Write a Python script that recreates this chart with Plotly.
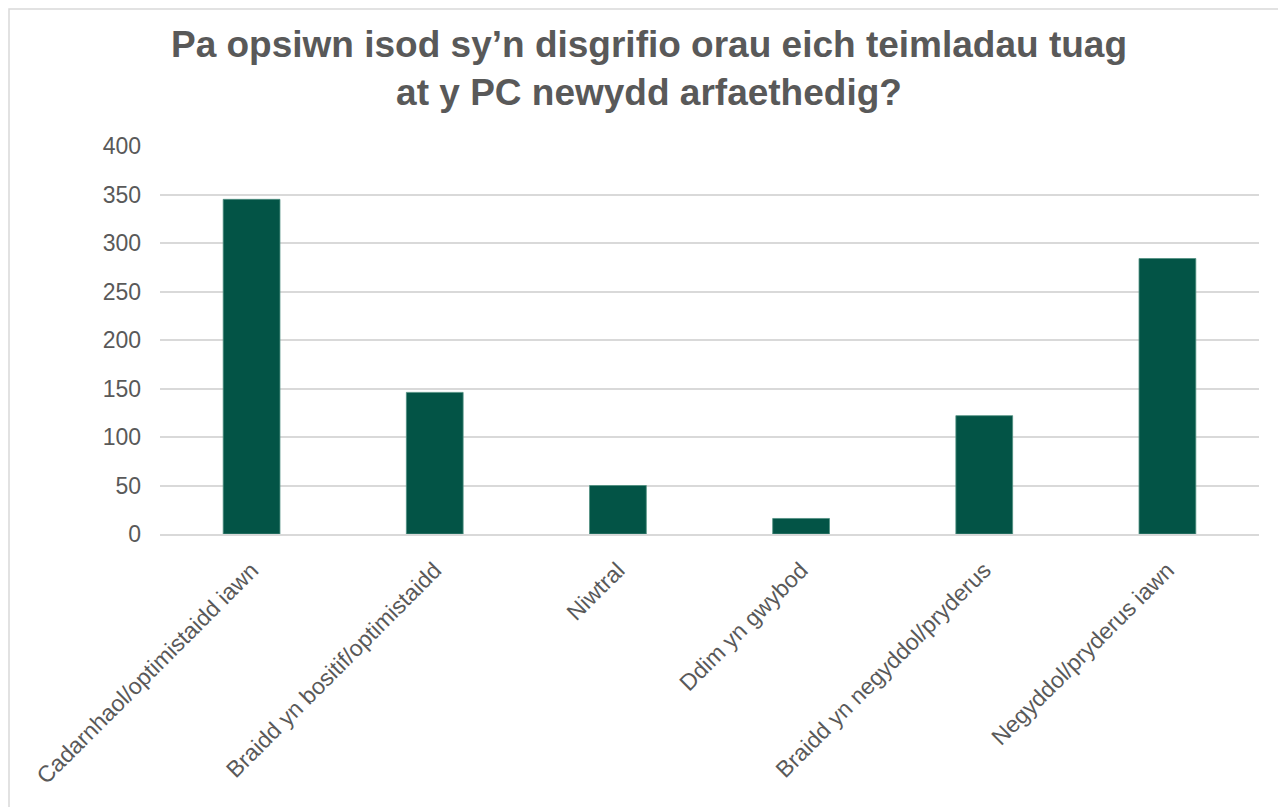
import plotly.graph_objects as go

categories = [
    "Cadarnhaol/optimistaidd iawn",
    "Braidd yn bositif/optimistaidd",
    "Niwtral",
    "Ddim yn gwybod",
    "Braidd yn negyddol/pryderus",
    "Negyddol/pryderus iawn",
]
values = [345, 146, 50, 16, 122, 284]
y_ticks = [0, 50, 100, 150, 200, 250, 300, 350, 400]

title_text = "Pa opsiwn isod sy’n disgrifio orau eich teimladau tuag<br>at y PC newydd arfaethedig?"

fig = go.Figure()
fig.add_trace(go.Bar(
    x=categories,
    y=values,
    marker=dict(color="#035446", line=dict(color="#4f8f80", width=0.8)),
))

# page has an 8px body margin; figure placed at (8, 8)
OFF = 8
W, H = 1286 - OFF, 807 - OFF
L, T = 160 - OFF, 146 - OFF
R = W - (1259 - OFF)
B = H - (534 - OFF)

fig.update_layout(
    width=W, height=H,
    margin=dict(l=L, r=R, t=T, b=B, autoexpand=False),
    paper_bgcolor="white",
    plot_bgcolor="white",
    bargap=0.69,
    showlegend=False,
    font=dict(family="Liberation Sans, Arial, sans-serif", color="#595959"),
    title=dict(
        text=title_text,
        x=(649 - OFF) / W, xanchor="center", xref="container",
        y=1 - 49 / H, yanchor="top", yref="container",
        font=dict(size=37, color="#595959", family="Liberation Sans, Arial, sans-serif", weight="bold"),
    ),
    xaxis=dict(
        tickangle=-45,
        tickfont=dict(size=23, color="#595959"),
        showgrid=False,
        showline=True, linecolor="#D9D9D9", linewidth=1.5,
        ticks="",
        ticklabelstandoff=12,
    ),
    yaxis=dict(
        range=[0, 400],
        tickvals=y_ticks,
        tickfont=dict(size=23, color="#595959"),
        showgrid=True, gridcolor="#D9D9D9", gridwidth=1.5,
        zeroline=False,
        showline=False,
        ticks="",
        ticklabelstandoff=18,
    ),
)

# outer chart border
px_w = W - L - R
px_h = H - T - B
fig.add_shape(
    type="rect", xref="paper", yref="paper",
    x0=(9 - 160) / px_w, x1=(1300 - 160) / px_w,
    y0=(534 - 830) / px_h, y1=(534 - 9) / px_h,
    line=dict(color="#D9D9D9", width=1.5),
    fillcolor="rgba(0,0,0,0)",
    layer="below",
)

fig.write_html("out.html")
